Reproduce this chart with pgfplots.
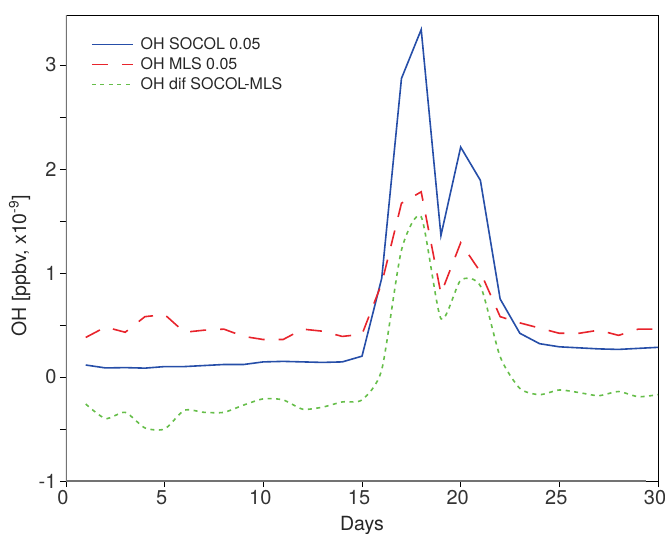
\documentclass[border=0pt]{standalone}
\usepackage{pgfplots}
\pgfplotsset{compat=1.18}
\usepackage{fontspec}
\setmainfont{TeX Gyre Heros}
\definecolor{cblue}{RGB}{38,78,168}
\definecolor{cred}{RGB}{232,36,44}
\definecolor{cgreen}{RGB}{102,190,74}
\begin{document}
\begin{tikzpicture}
\begin{axis}[
  scale only axis, width=592pt, height=466pt,
  xmin=0, xmax=30, ymin=-1, ymax=3.48,
  xtick={0,5,...,30}, ytick={-1,0,1,2,3},
  minor ytick={-0.5,0.5,1.5,2.5},
  tick align=outside, tick pos=left,
  major tick length=6pt, minor tick length=6pt,
  tick style={black, line width=0.6pt},
  /pgf/number format/assume math mode=true,
  tick label style={font=\fontsize{20}{22}\selectfont, text=black!80},
  xticklabel style={xshift=-3pt},
  xlabel={Days}, ylabel={OH [ppbv, x10\textsuperscript{-9}]},
  label style={font=\fontsize{19.5}{21}\selectfont, text=black!85},
  xlabel style={at={(rel axis cs:0.5,0)}, anchor=north, yshift=-32pt},
  ylabel style={at={(rel axis cs:0,0.462)}, anchor=south, yshift=32pt},
  axis line style={black, line width=0.7pt},
  legend style={draw=none, fill=none, at={(0.037,0.96)}, anchor=north west,
    font=\fontsize{16}{19}\selectfont, row sep=2.5pt, column sep=5pt, text=black!85},
  legend cell align=left,
  legend image code/.code={\draw[#1, line width=1.6pt] (0pt,0pt) -- (41pt,0pt);},
]
\addplot[cblue, line width=1.6pt] coordinates {
(1,0.115)(2,0.087)(3,0.09)(4,0.085)(5,0.10)(6,0.10)(7,0.11)(8,0.12)(9,0.12)(10,0.145)
(11,0.15)(12,0.145)(13,0.14)(14,0.145)(15,0.20)(16,0.95)(17,2.87)(18,3.34)(19,1.36)(20,2.21)
(21,1.89)(22,0.75)(23,0.42)(24,0.32)(25,0.29)(26,0.28)(27,0.27)(28,0.265)(29,0.275)(30,0.285)};
\addlegendentry{OH SOCOL 0.05}
\addplot[cred, line width=1.6pt, dash pattern=on 16pt off 14pt] coordinates {
(1,0.38)(2,0.48)(3,0.43)(4,0.58)(5,0.60)(6,0.43)(7,0.45)(8,0.46)(9,0.39)(10,0.36)
(11,0.36)(12,0.46)(13,0.44)(14,0.39)(15,0.41)(16,0.90)(17,1.67)(18,1.78)(19,0.80)(20,1.29)
(21,1.01)(22,0.58)(23,0.52)(24,0.47)(25,0.42)(26,0.42)(27,0.45)(28,0.40)(29,0.46)(30,0.46)};
\addlegendentry{OH MLS 0.05}
\addplot[cgreen, line width=1.6pt, dash pattern=on 4pt off 4.5pt, smooth, tension=0.4] coordinates {
(1,-0.26)(2,-0.40)(3,-0.34)(4,-0.49)(5,-0.50)(6,-0.32)(7,-0.34)(8,-0.34)(9,-0.27)(10,-0.21)
(11,-0.22)(12,-0.31)(13,-0.29)(14,-0.24)(15,-0.22)(16,0.07)(17,1.22)(18,1.54)(19,0.56)(20,0.93)
(21,0.875)(22,0.195)(23,-0.11)(24,-0.17)(25,-0.125)(26,-0.15)(27,-0.18)(28,-0.14)(29,-0.19)(30,-0.17)};
\addlegendentry{OH dif SOCOL-MLS}
\draw[black!55, line width=1.6pt] (rel axis cs:0,0) -- (rel axis cs:0,1);
\draw[black!55, line width=1.6pt] (rel axis cs:0,0) -- (rel axis cs:0.98,0);
\end{axis}
\pgfresetboundingbox
\path ([shift={(-66pt,15pt)}]current axis.north west) rectangle ([shift={(7pt,-53pt)}]current axis.south east);
\end{tikzpicture}
\end{document}
